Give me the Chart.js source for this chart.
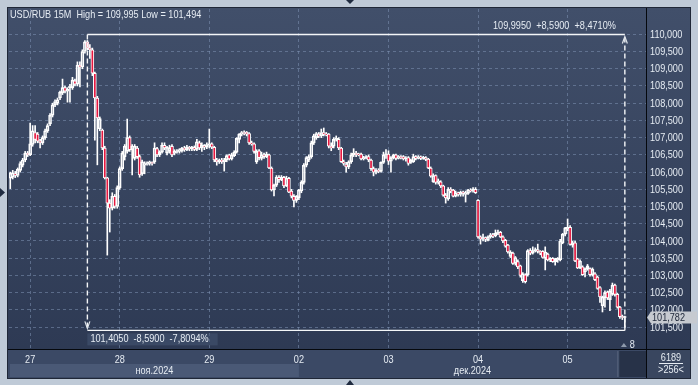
<!DOCTYPE html>
<html><head><meta charset="utf-8">
<script src="https://cdn.jsdelivr.net/npm/chart.js@4.4.1/dist/chart.umd.min.js"></script>
<style>html,body{margin:0;padding:0;background:#bfcad7;overflow:hidden}canvas{display:block}</style>
</head><body><canvas id="c" width="698" height="385"></canvas>
<script>
// ---- USD/RUB 15M candles ----
const opens = [
 105.82,105.85,105.95,105.9,106.05,106.2,106.35,106.55,
 106.5,106.8,107.15,107.1,106.9,106.85,107.0,107.2,107.4,107.65,107.95,108.0,108.15,108.3,108.45,108.35,108.45,108.45,108.65,108.55,109.1,109.05,109.5,
 109.78,109.6,109.55,108.87,108.15,107.25,107.22,106.7,105.83,105.1,104.95,105.3,105.0,
 105.55,106.1,106.45,106.6,107.0,106.65,106.4,106.7,106.45,105.95,106.2,106.22,106.25,106.28,106.3,106.68,106.5,106.58,106.78,106.55,106.6,106.75,106.55,106.58,106.6,106.62,106.7,106.65,106.72,
 106.68,106.72,106.66,106.85,106.7,106.78,106.72,
 106.78,106.82,106.72,106.35,106.3,106.35,106.3,106.35,106.5,106.38,106.48,106.58,106.95,107.1,107.15,107.16,107.12,106.85,106.82,106.3,106.62,106.4,106.5,106.45,106.5,106.12,105.48,105.62,105.85,105.78,105.85,105.6,105.82,105.45,105.3,105.18,
 105.25,105.45,105.7,106.2,106.35,106.45,106.85,107.0,107.1,107.05,107.15,107.1,107.1,106.75,106.75,106.95,106.95,106.7,106.3,106.22,106.15,106.3,106.5,106.55,106.52,106.52,106.38,106.42,
 106.45,106.35,106.1,106.0,106.05,106.02,106.28,106.5,
 106.52,106.32,106.42,106.5,106.4,106.45,106.45,106.38,106.42,106.28,106.3,106.45,106.4,106.44,106.4,106.42,106.38,106.12,105.72,105.9,105.7,105.72,105.6,105.33,105.22,105.5,105.48,105.3,105.4,105.35,105.42,105.35,105.38,105.48,105.45,105.5,
 105.18,104.12,104.05,104.1,104.02,104.12,104.18,104.15,104.22,104.25,
 104.12,104.02,103.88,103.55,103.65,103.35,103.4,103.28,102.85,103.02,103.02,103.72,103.65,103.72,103.75,103.7,103.7,103.5,103.62,103.45,103.5,103.4,103.45,103.45,103.95,104.2,
 104.35,104.4,103.88,103.95,103.48,103.22,103.25,103.1,103.2,103.2,103.02,103.05,102.95,102.65,102.12,102.35,102.52,102.3,102.45,102.72,102.45,102.08,101.8,101.78
];
const highs = [
 106.0,106.05,106.02,106.12,106.3,106.4,106.6,106.6,
 107.42,107.35,107.35,107.15,106.95,107.05,107.25,107.4,107.7,108.0,108.1,108.15,108.35,108.7,108.5,108.45,108.55,108.75,108.7,109.2,109.2,109.55,109.82,
 109.82,109.7,109.6,108.9,108.2,107.6,107.25,106.75,105.85,105.2,105.4,105.35,105.6,
 106.15,106.6,106.8,107.54,107.05,106.8,106.8,106.75,106.5,106.35,106.3,106.3,106.32,106.3,106.85,106.72,106.62,106.85,106.85,106.75,106.78,106.8,106.65,106.65,106.68,106.72,106.75,106.78,106.75,
 106.75,106.76,106.95,106.9,106.85,106.8,106.85,
 107.25,106.85,106.75,106.4,106.38,106.4,106.4,106.5,106.52,106.55,106.62,107.0,107.12,107.18,107.2,107.18,107.15,106.9,106.85,106.65,106.65,106.58,106.55,106.58,106.52,106.15,105.65,105.9,105.9,105.9,105.88,105.88,105.85,105.5,105.35,105.32,
 105.5,105.75,106.25,106.45,106.5,106.9,107.1,107.15,107.15,107.25,107.28,107.15,107.12,106.85,107.0,107.05,107.0,106.72,106.35,106.28,106.33,106.55,106.68,106.6,106.55,106.55,106.46,106.48,
 106.5,106.38,106.15,106.1,106.1,106.3,106.58,106.65,
 106.62,106.45,106.52,106.52,106.48,106.48,106.48,106.45,106.45,106.38,106.52,106.48,106.48,106.47,106.46,106.45,106.4,106.15,105.95,105.92,105.8,105.75,105.62,105.38,105.55,105.55,105.5,105.45,105.42,105.45,105.45,105.45,105.5,105.52,105.55,105.55,
 105.2,104.15,104.2,104.12,104.15,104.22,104.22,104.32,104.32,104.28,
 104.15,104.05,103.9,103.72,103.68,103.55,103.45,103.3,103.08,103.05,103.75,103.78,103.83,103.8,103.91,103.72,103.72,103.83,103.65,103.52,103.52,103.5,103.52,104.05,104.22,104.4,
 104.64,104.45,104.0,104.0,103.5,103.45,103.28,103.22,103.32,103.22,103.22,103.08,102.98,102.68,102.4,102.55,102.55,102.6,102.78,102.75,102.48,102.1,101.85,101.82
];
const lows = [
 105.52,105.8,105.84,105.86,106.0,106.15,106.3,106.45,
 106.48,106.75,106.85,106.85,106.7,106.8,106.95,107.15,107.35,107.6,107.9,107.95,108.1,108.25,108.3,108.03,108.03,108.4,108.5,108.5,108.47,109.0,109.45,
 109.55,109.3,108.8,106.93,106.21,107.2,106.65,105.8,103.59,104.26,104.9,104.95,104.95,
 105.5,106.05,106.35,106.55,106.6,105.92,106.35,106.4,105.85,105.9,105.95,106.2,106.2,106.2,106.25,106.45,106.45,106.55,106.65,106.5,106.55,106.45,106.5,106.55,106.55,106.58,106.6,106.62,106.62,
 106.62,106.62,106.62,106.65,106.6,106.65,106.68,
 106.7,106.68,106.3,106.2,106.25,106.25,106.03,106.3,106.35,106.35,106.45,106.55,106.85,107.05,107.08,107.05,106.8,106.78,106.55,106.25,106.35,106.35,106.4,106.42,106.1,105.45,105.31,105.58,105.7,105.75,105.55,105.58,105.4,105.25,104.99,105.12,
 105.2,105.4,105.65,106.15,106.3,106.4,106.8,106.95,107.0,107.0,107.05,107.05,106.7,106.62,106.7,106.9,106.65,106.28,106.2,106.0,106.1,106.25,106.45,106.45,106.47,106.35,106.35,106.38,
 106.3,106.05,105.89,105.95,105.98,106.0,106.25,106.4,
 106.22,106.0,106.38,106.35,106.38,106.38,106.35,106.32,106.2,106.25,106.28,106.35,106.38,106.36,106.37,106.33,106.1,105.85,105.7,105.65,105.65,105.55,105.3,105.1,105.18,105.4,105.28,105.28,105.3,105.3,105.3,105.13,105.35,105.42,105.42,105.38,
 104.08,103.91,104.0,103.98,104.0,104.08,104.1,104.12,104.18,104.1,
 103.95,103.82,103.65,103.52,103.32,103.3,103.2,102.95,102.8,102.78,102.98,103.6,103.62,103.68,103.65,103.6,103.5,103.16,103.42,103.4,103.38,103.3,103.38,103.42,103.92,104.15,
 104.3,103.88,103.82,103.4,103.2,103.2,103.0,102.96,103.15,102.98,102.98,102.85,102.6,102.22,101.94,102.08,102.3,101.98,102.42,102.4,102.05,101.75,101.72,101.494
];
const closes = [
 105.97,105.98,105.9,106.08,106.25,106.35,106.55,106.5,
 106.82,107.2,106.95,106.9,106.85,107.0,107.2,107.35,107.65,107.95,108.05,108.1,108.32,108.45,108.35,108.4,108.5,108.67,108.55,109.1,109.05,109.5,109.78,
 109.6,109.55,108.87,108.15,107.57,107.55,106.7,105.83,105.1,104.95,105.3,105.0,105.55,
 106.1,106.55,106.75,107.0,106.65,106.75,106.75,106.45,105.92,106.3,106.25,106.27,106.3,106.25,106.7,106.5,106.58,106.78,106.7,106.72,106.7,106.5,106.6,106.62,106.65,106.7,106.65,106.72,106.68,
 106.72,106.66,106.88,106.7,106.78,106.72,106.8,
 106.82,106.72,106.35,106.3,106.35,106.3,106.35,106.48,106.38,106.5,106.58,106.98,107.1,107.15,107.12,107.1,106.85,106.82,106.6,106.6,106.42,106.5,106.45,106.52,106.12,105.48,105.62,105.85,105.78,105.85,105.6,105.82,105.42,105.3,105.18,105.3,
 105.48,105.7,106.2,106.42,106.45,106.85,107.05,107.12,107.05,107.15,107.1,107.08,106.75,106.7,106.95,106.98,106.7,106.3,106.25,106.15,106.3,106.5,106.55,106.5,106.5,106.38,106.42,106.45,
 106.35,106.1,106.0,106.05,106.02,106.28,106.5,106.52,
 106.32,106.42,106.5,106.4,106.45,106.42,106.38,106.4,106.25,106.35,106.45,106.4,106.44,106.4,106.43,106.37,106.12,105.88,105.9,105.7,105.75,105.6,105.33,105.25,105.5,105.45,105.3,105.4,105.35,105.42,105.38,105.4,105.48,105.45,105.5,105.4,
 104.12,104.05,104.1,104.05,104.12,104.18,104.15,104.22,104.25,104.12,
 104.0,103.85,103.68,103.68,103.35,103.52,103.25,103.0,103.05,102.82,103.72,103.65,103.72,103.75,103.7,103.65,103.52,103.68,103.45,103.5,103.4,103.48,103.5,104.0,104.2,104.38,
 104.4,103.9,103.95,103.42,103.22,103.42,103.02,103.2,103.28,103.02,103.18,102.88,102.62,102.38,102.38,102.5,102.35,102.55,102.72,102.45,102.08,101.8,101.78,101.782
];
// axis / annotation data
const dayStarts = [8, 44, 80, 116, 152, 188, 224];
const dayLabels = ['27', '28', '29', '02', '03', '04', '05'];
const monthLabels = ['ноя.2024', 'дек.2024'];
const monthStarts = [0, 116];
const yTicks = [101.5,102,102.5,103,103.5,104,104.5,105,105.5,106,106.5,107,107.5,108,108.5,109,109.5,110];
const yMin = 100.865, yMax = 110.734;
const emptySlots = 8;
const headerText = 'USD/RUB 15M  High = 109,995 Low = 101,494';
const measureStart = 31;
const measureHigh = 109.995, measureLow = 101.405;
const measureTopText = '109,9950  +8,5900  +8,4710%';
const measureBottomText = '101,4050  -8,5900  -7,8094%';
const lastPrice = 101.782;
const barsCount = '6189';
const visibleCount = '>256<';

const FONT = '"Liberation Sans", Arial, sans-serif';
const SX = 0.83;            // narrow-face emulation
const TXT = '#e6ecf3';
const GRID = 'rgba(125,145,178,0.55)';

const N = opens.length;
const labels = Array.from({length: N + emptySlots}, (_, i) => String(i));
const bodies = opens.map((o, i) => [Math.min(o, closes[i]), Math.max(o, closes[i])]);
const upperWicks = opens.map((o, i) => [Math.max(o, closes[i]), highs[i]]);
const lowerWicks = opens.map((o, i) => [lows[i], Math.min(o, closes[i])]);
const bodyFill = opens.map((o, i) => closes[i] < o ? '#e6173f' : 'rgba(0,0,0,0)');

const fmt = (v, d) => v.toFixed(d).replace('.', ',');

function txt(ctx, s, x, y, align, color) {
  ctx.save();
  ctx.font = '11px ' + FONT;
  ctx.textBaseline = 'middle';
  ctx.textAlign = align || 'left';
  ctx.fillStyle = color || TXT;
  ctx.translate(x, y);
  ctx.scale(SX, 1);
  ctx.fillText(s, 0, 0);
  ctx.restore();
}
function txtWidth(ctx, s) {
  ctx.save();
  ctx.font = '11px ' + FONT;
  const w = ctx.measureText(s).width * SX;
  ctx.restore();
  return w;
}

const deco = {
  id: 'deco',
  beforeDraw(chart) {
    const {ctx, chartArea: ca} = chart;
    const xs = chart.scales.x;
    ctx.save();
    ctx.fillStyle = '#bfcad7';
    ctx.fillRect(0, 0, 698, 385);
    const g = ctx.createLinearGradient(0, 8, 0, 378);
    g.addColorStop(0, '#414f6a');
    g.addColorStop(1, '#2c3852');
    ctx.fillStyle = g;
    ctx.fillRect(8, 8, 682, 370);
    ctx.strokeStyle = '#1f2737';
    ctx.lineWidth = 1;
    ctx.strokeRect(7.5, 7.5, 683, 371);
    ctx.fillStyle = '#3b4965';
    ctx.fillRect(8, ca.bottom + 1, ca.right - 8, 378 - ca.bottom - 1);
    const xm = xs.getPixelForValue(monthStarts[1]);
    ctx.fillStyle = '#4a5976';
    ctx.fillRect(10, 364, xm - 10, 13);
    ctx.fillStyle = '#39465f';
    ctx.fillRect(ca.right, ca.bottom + 1, 690 - ca.right, 378 - ca.bottom - 1);
    const xe = xs.getPixelForValue(N) - 8;
    ctx.fillStyle = '#273248';
    ctx.fillRect(xe, ca.bottom + 2, ca.right - xe, 26);
    ctx.fillStyle = '#59667e';
    ctx.fillRect(xe - 2, ca.bottom + 2, 1, 26);
    ctx.restore();
  },
  afterDraw(chart) {
    const {ctx, chartArea: ca} = chart;
    const xs = chart.scales.x, ys = chart.scales.y;
    ctx.save();
    ctx.strokeStyle = '#05080d';
    ctx.lineWidth = 1;
    ctx.beginPath();
    ctx.moveTo(8, ca.bottom + 0.5); ctx.lineTo(690, ca.bottom + 0.5);
    ctx.moveTo(ca.right + 0.5, 8); ctx.lineTo(ca.right + 0.5, 378);
    ctx.stroke();
    // y-axis labels (from the scale)
    ys.ticks.forEach(t => txt(ctx, fmt(t.value, 3), ca.right + 4, ys.getPixelForValue(t.value) + 0.5));
    // day labels (from the scale)
    xs.ticks.forEach(t => {
      const k = dayStarts.indexOf(t.value);
      if (k >= 0) txt(ctx, dayLabels[k], xs.getPixelForValue(t.value), 359.5, 'center');
    });
    // month labels
    const m0 = 10, m1 = xs.getPixelForValue(monthStarts[1]), m2 = ca.right;
    txt(ctx, monthLabels[0], (m0 + m1) / 2, 370.5, 'center');
    txt(ctx, monthLabels[1], (m1 + m2) / 2, 370.5, 'center');
    // header
    txt(ctx, headerText, 10, 15);
    // measurement tool
    const x1 = xs.getPixelForValue(measureStart), x2 = xs.getPixelForValue(N - 1);
    const yH = ys.getPixelForValue(measureHigh), yL = ys.getPixelForValue(measureLow);
    ctx.strokeStyle = '#f4f6f8';
    ctx.lineWidth = 1.4;
    ctx.beginPath();
    ctx.moveTo(x1, yH); ctx.lineTo(x2, yH);
    ctx.moveTo(x1, yL); ctx.lineTo(x2, yL);
    ctx.stroke();
    ctx.setLineDash([5, 3]);
    ctx.beginPath();
    ctx.moveTo(x1, yH); ctx.lineTo(x1, yL - 2);
    ctx.moveTo(x2, yL); ctx.lineTo(x2, yH + 2);
    ctx.stroke();
    ctx.setLineDash([]);
    ctx.lineWidth = 1.2;
    ctx.strokeStyle = '#dfe4ea';
    ctx.beginPath();
    ctx.moveTo(x1 - 2.5, yL - 9); ctx.lineTo(x1, yL - 2); ctx.lineTo(x1 + 2.5, yL - 9);
    ctx.moveTo(x2 - 2.5, yH + 9); ctx.lineTo(x2, yH + 2); ctx.lineTo(x2 + 2.5, yH + 9);
    ctx.stroke();
    txt(ctx, measureTopText, x2 - 9, yH - 8.5, 'right');
    const bw = txtWidth(ctx, measureBottomText);
    ctx.fillStyle = 'rgba(70,86,114,0.55)';
    ctx.fillRect(x1, yL + 3, bw + 12, 12);
    txt(ctx, measureBottomText, x1 + 3, yL + 9);
    // empty-slot marker
    ctx.fillStyle = '#8d99ab';
    ctx.beginPath();
    const xt = xs.getPixelForValue(N - 1) - 1;
    ctx.moveTo(xt - 3, ca.bottom - 2); ctx.lineTo(xt + 3, ca.bottom - 2); ctx.lineTo(xt, ca.bottom - 6);
    ctx.fill();
    txt(ctx, String(emptySlots), xt + 6, ca.bottom - 4);
    // last price tag
    const yp = ys.getPixelForValue(lastPrice);
    ctx.fillStyle = '#c6cad0';
    ctx.beginPath();
    ctx.moveTo(ca.right + 1, yp);
    ctx.lineTo(ca.right + 5, yp - 6);
    ctx.lineTo(697, yp - 6);
    ctx.lineTo(697, yp + 6);
    ctx.lineTo(ca.right + 5, yp + 6);
    ctx.closePath();
    ctx.fill();
    txt(ctx, fmt(lastPrice, 3), ca.right + 6, yp + 0.5, 'left', '#1b2436');
    // bottom-right counters
    const cx = (ca.right + 690) / 2 + 3;
    txt(ctx, barsCount, cx, 357.5, 'center');
    ctx.fillStyle = TXT;
    ctx.fillRect(cx - 12, 363, 24, 1);
    txt(ctx, visibleCount, cx, 370, 'center');
    // small triangles in the frame
    ctx.fillStyle = '#1f2b40';
    ctx.beginPath();
    ctx.moveTo(0, 188); ctx.lineTo(5, 192.5); ctx.lineTo(0, 197); ctx.closePath();
    ctx.moveTo(346, 0); ctx.lineTo(354, 0); ctx.lineTo(350, 4); ctx.closePath();
    ctx.moveTo(346, 385); ctx.lineTo(354, 385); ctx.lineTo(350, 380); ctx.closePath();
    ctx.fill();
    ctx.restore();
  }
};

new Chart(document.getElementById('c'), {
  type: 'bar',
  data: {
    labels,
    datasets: [
      {data: upperWicks, backgroundColor: '#ffffff', barThickness: 1, grouped: false, order: 2, borderWidth: 0},
      {data: lowerWicks, backgroundColor: '#ffffff', barThickness: 1, grouped: false, order: 2, borderWidth: 0},
      {data: bodies, backgroundColor: bodyFill, borderColor: '#ffffff', borderWidth: 1, borderSkipped: false,
       barThickness: 3, minBarLength: 1, grouped: false, order: 1}
    ]
  },
  options: {
    responsive: false,
    animation: false,
    devicePixelRatio: 1,
    layout: {padding: {left: 9, top: 9, right: 8, bottom: 7}},
    plugins: {legend: {display: false}, tooltip: {enabled: false}},
    scales: {
      x: {
        type: 'category',
        offset: true,
        grid: {color: GRID, lineWidth: 1, offset: false, drawTicks: false},
        border: {display: false, dash: [3, 3]},
        afterBuildTicks: s => { s.ticks = dayStarts.map(v => ({value: v})); },
        afterFit: s => { s.height = 29; },
        ticks: {display: false, autoSkip: false}
      },
      y: {
        type: 'linear',
        position: 'right',
        min: yMin, max: yMax,
        grid: {color: GRID, lineWidth: 1, drawTicks: false},
        border: {display: false, dash: [3, 3]},
        afterBuildTicks: s => { s.ticks = yTicks.map(v => ({value: v})); },
        afterFit: s => { s.width = 44; },
        ticks: {display: false}
      }
    }
  },
  plugins: [deco]
});
</script>
</body></html>
